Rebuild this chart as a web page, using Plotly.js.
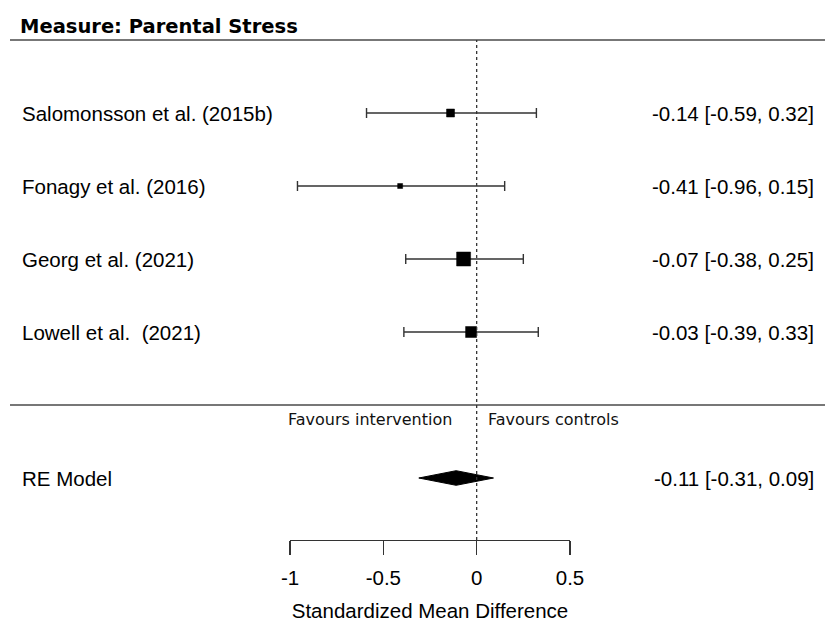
<!DOCTYPE html>
<html>
<head>
<meta charset="utf-8">
<script src="https://cdn.plot.ly/plotly-3.0.1.min.js"></script>
<style>html,body{margin:0;padding:0;background:#fff;}#chart{width:825px;height:622px;}</style>
</head>
<body>
<div id="chart"></div>
<script>
// ---- data ----
const studies = ["Salomonsson et al. (2015b)", "Fonagy et al. (2016)", "Georg et al. (2021)", "Lowell et al.  (2021)"];
const estimates = [-0.14, -0.41, -0.07, -0.03];
const lower = [-0.59, -0.96, -0.38, -0.39];
const upper = [0.32, 0.15, 0.25, 0.33];
const weights = [8, 5, 14, 11]; // relative marker sizes (px)
const rows = [4, 3, 2, 1];
const pooledLabel = "RE Model";
const pooledEst = -0.11, pooledLower = -0.31, pooledUpper = 0.09;
const pooledRow = -1;
const tickVals = [-1, -0.5, 0, 0.5];
const tickText = ["-1", "-0.5", "0", "0.5"];

const fmt = v => v.toFixed(2);
const ciText = (e, l, u) => fmt(e) + " [" + fmt(l) + ", " + fmt(u) + "]";

const W = 825, H = 622;
const labelFont = {family: "Liberation Sans, Arial, sans-serif", size: 20.5, color: "#000"};

const traces = [
  {
    type: "scatter", mode: "markers",
    x: estimates, y: rows,
    marker: {size: 0.1, color: "rgba(0,0,0,0)"},
    error_x: {type: "data", symmetric: false,
      array: estimates.map((e, i) => upper[i] - e),
      arrayminus: estimates.map((e, i) => e - lower[i]),
      color: "#333", thickness: 1.4, width: 5},
    hoverinfo: "skip", showlegend: false
  },
  {
    type: "scatter", mode: "markers",
    x: estimates, y: rows,
    marker: {symbol: "square", size: weights, color: "#000", opacity: 1, line: {color: "#000", width: 0.5}},
    hoverinfo: "skip", showlegend: false
  },
  {
    type: "scatter", mode: "lines",
    x: [pooledLower, pooledEst, pooledUpper, pooledEst, pooledLower],
    y: [pooledRow, pooledRow + 0.1, pooledRow, pooledRow - 0.1, pooledRow],
    fill: "toself", fillcolor: "#000", line: {color: "#000", width: 1},
    hoverinfo: "skip", showlegend: false
  }
];

const annotations = [];
studies.forEach((s, i) => {
  annotations.push({xref: "paper", yref: "y", x: 20 / W, y: rows[i], text: s, showarrow: false,
    xanchor: "left", yanchor: "middle", font: labelFont});
  annotations.push({xref: "paper", yref: "y", x: 816 / W, y: rows[i], text: ciText(estimates[i], lower[i], upper[i]),
    showarrow: false, xanchor: "right", yanchor: "middle", font: labelFont});
});
annotations.push({xref: "paper", yref: "y", x: 20 / W, y: pooledRow, text: pooledLabel, showarrow: false,
  xanchor: "left", yanchor: "middle", font: labelFont});
annotations.push({xref: "paper", yref: "y", x: 816 / W, y: pooledRow, text: ciText(pooledEst, pooledLower, pooledUpper),
  showarrow: false, xanchor: "right", yanchor: "middle", font: labelFont});
const favFont = {family: "DejaVu Sans, Verdana, sans-serif", size: 16, color: "#111"};
annotations.push({xref: "x", yref: "y", x: 0, xshift: -23, y: -0.2, text: "Favours intervention", showarrow: false,
  xanchor: "right", yanchor: "middle", font: favFont});
annotations.push({xref: "x", yref: "y", x: 0, xshift: 9, y: -0.2, text: "Favours controls", showarrow: false,
  xanchor: "left", yanchor: "middle", font: favFont});

const shapes = [
  {type: "line", xref: "paper", yref: "y", x0: 10 / W, x1: 1, y0: 5, y1: 5, line: {color: "#777", width: 1.8}},
  {type: "line", xref: "paper", yref: "y", x0: 10 / W, x1: 1, y0: 0, y1: 0, line: {color: "#777", width: 1.8}},
  {type: "line", xref: "x", yref: "y", x0: 0, x1: 0, y0: -1.85, y1: 5, line: {color: "#333", width: 1.3, dash: "dot"}}
];

const layout = {
  width: W, height: H,
  margin: {l: 0, r: 0, t: 0, b: 0},
  paper_bgcolor: "#fff", plot_bgcolor: "#fff",
  showlegend: false,
  title: {text: "<b>Measure: Parental Stress</b>", xref: "container", yref: "container",
    x: 20 / W, xanchor: "left", y: 1 - 26.5 / H, yanchor: "middle",
    font: {family: "DejaVu Sans, Verdana, sans-serif", size: 19.5, color: "#000"}},
  xaxis: {
    domain: [290 / W, 570 / W], range: [-1, 0.5],
    anchor: "free", position: 1 - 540 / H,
    tickvals: tickVals, ticktext: tickText,
    ticks: "outside", ticklen: 14, tickwidth: 1.4, tickcolor: "#333",
    showline: true, linecolor: "#333", linewidth: 1.4,
    showgrid: false, zeroline: false,
    tickfont: labelFont, ticklabelstandoff: 5,
    title: {text: "Standardized Mean Difference", font: labelFont, standoff: 20},
    fixedrange: true
  },
  yaxis: {
    domain: [0, 1], range: [1 - 290 / 73, 1 + 332 / 73],
    visible: false, showgrid: false, zeroline: false, fixedrange: true
  },
  annotations: annotations,
  shapes: shapes
};

Plotly.newPlot("chart", traces, layout, {displayModeBar: false, staticPlot: true});
</script>
</body>
</html>
